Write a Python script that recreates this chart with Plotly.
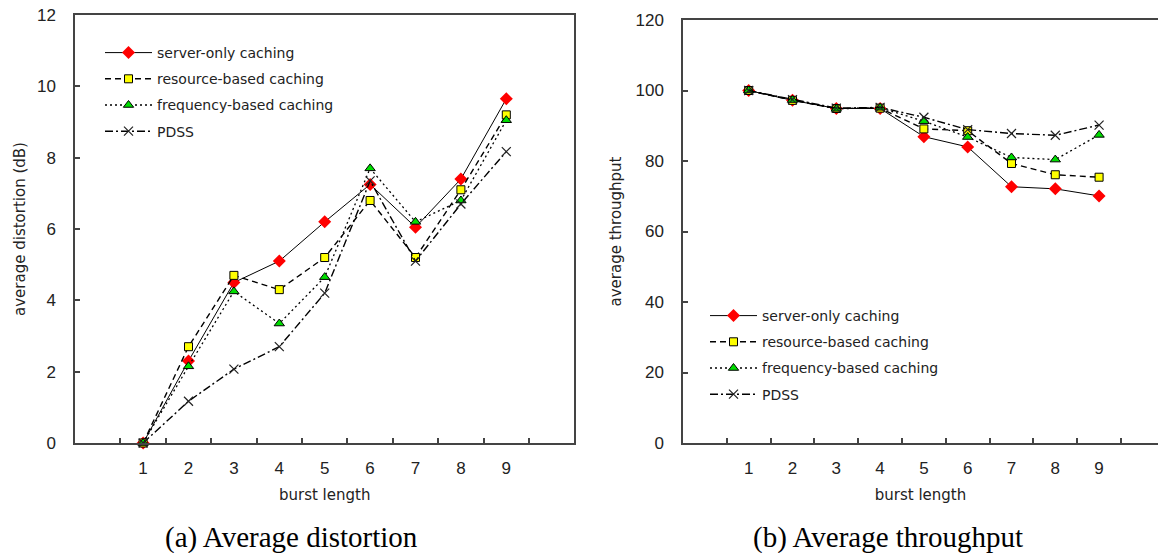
import plotly.graph_objects as go

# ---------------- data ----------------
burst = [1, 2, 3, 4, 5, 6, 7, 8, 9]
series_names = ["server-only caching", "resource-based caching",
                "frequency-based caching", "PDSS"]

dist_server = [0, 2.3, 4.5, 5.1, 6.2, 7.25, 6.05, 7.4, 9.65]
dist_resource = [0, 2.7, 4.7, 4.3, 5.2, 6.8, 5.2, 7.1, 9.2]
dist_frequency = [0, 2.15, 4.25, 3.35, 4.65, 7.7, 6.2, 6.8, 9.05]
dist_pdss = [0, 1.17, 2.07, 2.7, 4.2, 7.35, 5.1, 6.7, 8.17]

thr_server = [100, 97.2, 94.9, 94.9, 86.9, 84.0, 72.7, 72.1, 70.1]
thr_resource = [100, 97.2, 94.9, 95.0, 89.1, 88.6, 79.3, 76.1, 75.4]
thr_frequency = [100, 97.3, 94.8, 95.1, 91.3, 86.8, 81.0, 80.4, 87.4]
thr_pdss = [100, 97.4, 95.0, 95.2, 92.4, 88.9, 87.8, 87.3, 90.2]

dist_ticks = [0, 2, 4, 6, 8, 10, 12]
thr_ticks = [0, 20, 40, 60, 80, 100, 120]
boundaries = [0.5, 1.5, 2.5, 3.5, 4.5, 5.5, 6.5, 7.5, 8.5, 9.5]

captions = ["(a) Average distortion", "(b) Average throughput"]

# ---------------- styles ----------------
styles = [
    dict(line=dict(color="black", width=1, dash="solid"),
         marker=dict(symbol="diamond", size=10, color="#ff0000",
                     line=dict(width=0))),
    dict(line=dict(color="black", width=1.4, dash="6px,4px"),
         marker=dict(symbol="square", size=8, color="#ffff00",
                     line=dict(color="black", width=1))),
    dict(line=dict(color="black", width=1.3, dash="2px,3px"),
         marker=dict(symbol="triangle-up", size=9, color="#00dd00",
                     line=dict(color="black", width=1))),
    dict(line=dict(color="black", width=1.4, dash="8px,3px,2px,3px"),
         marker=dict(symbol="x-thin", size=9, color="black",
                     line=dict(color="#222222", width=1.2))),
]

fig = go.Figure()
left_sets = [dist_server, dist_resource, dist_frequency, dist_pdss]
right_sets = [thr_server, thr_resource, thr_frequency, thr_pdss]

for i, (name, vals) in enumerate(zip(series_names, left_sets)):
    fig.add_trace(go.Scatter(x=burst, y=vals, name=name, mode="lines+markers",
                             xaxis="x", yaxis="y", legend="legend",
                             legendgroup="a%d" % i, cliponaxis=False,
                             **styles[i]))
for i, (name, vals) in enumerate(zip(series_names, right_sets)):
    fig.add_trace(go.Scatter(x=burst, y=vals, name=name, mode="lines+markers",
                             xaxis="x2", yaxis="y2", legend="legend2",
                             legendgroup="b%d" % i, cliponaxis=False,
                             **styles[i]))

W, H = 1158, 553
axis_col = "#444444"
tick_font = dict(family="Liberation Sans", size=17, color="#222222")
title_font = dict(family="DejaVu Sans", size=15, color="#222222")
legend_font = dict(family="DejaVu Sans", size=14, color="#222222")


def xaxis_cfg(domain, rng, anchor):
    return dict(domain=domain, range=rng, anchor=anchor, automargin=False,
                tickmode="array", tickvals=burst,
                ticktext=[str(b) for b in burst], ticks="",
                showgrid=False, zeroline=False, showline=True,
                linecolor=axis_col, linewidth=1.5, mirror=True,
                tickfont=tick_font, ticklabelstandoff=9,
                minor=dict(tickmode="array", tickvals=boundaries, ticks="inside",
                           ticklen=5, tickcolor=axis_col, tickwidth=1.5,
                           showgrid=False),
                title=dict(text="burst length", font=title_font, standoff=12))


def yaxis_cfg(domain, rng, tv, title, mirror, standoff, anchor):
    return dict(domain=domain, range=rng, anchor=anchor, automargin=False,
                tickmode="array", tickvals=tv,
                ticks="inside", ticklen=5, tickcolor=axis_col, tickwidth=1.5,
                showgrid=False, zeroline=False, showline=True,
                linecolor=axis_col, linewidth=1.5, mirror=mirror,
                tickfont=tick_font, ticklabelstandoff=14,
                title=dict(text=title, font=title_font, standoff=standoff))


fig.update_layout(
    width=W, height=H,
    margin=dict(l=0, r=0, t=0, b=0, autoexpand=False),
    paper_bgcolor="white", plot_bgcolor="white",
    xaxis=xaxis_cfg([75 / W, 574.4 / W], [-0.5, 10.5], "y"),
    yaxis=yaxis_cfg([1 - 443 / H, 1 - 15 / H], [0, 12], dist_ticks,
                    "average distortion (dB)", True, 8, "x"),
    xaxis2=xaxis_cfg([683 / W, 1.0], [-0.5, 10.345], "y2"),
    yaxis2=yaxis_cfg([1 - 443 / H, 1 - 20 / H], [0, 120], thr_ticks,
                     "average throughput", False, 10, "x2"),
    legend=dict(x=100 / W, y=1 - 37 / H, xanchor="left", yanchor="top",
                bgcolor="rgba(0,0,0,0)", font=legend_font, itemwidth=47,
                tracegroupgap=5, traceorder="grouped"),
    legend2=dict(x=705 / W, y=1 - 300 / H, xanchor="left", yanchor="top",
                 bgcolor="rgba(0,0,0,0)", font=legend_font, itemwidth=47,
                 tracegroupgap=5, traceorder="grouped"),
    annotations=[
        dict(text=captions[0], x=291 / W, y=1 - 537 / H, xref="paper",
             yref="paper", xanchor="center", yanchor="middle", showarrow=False,
             font=dict(family="Liberation Serif", size=29, color="black")),
        dict(text=captions[1], x=888 / W, y=1 - 537 / H, xref="paper",
             yref="paper", xanchor="center", yanchor="middle", showarrow=False,
             font=dict(family="Liberation Serif", size=29, color="black")),
    ],
)

fig.write_html("out.html",
               config={"displayModeBar": False},
               post_script="document.body.style.margin='0';"
                           "document.body.style.padding='0';")
